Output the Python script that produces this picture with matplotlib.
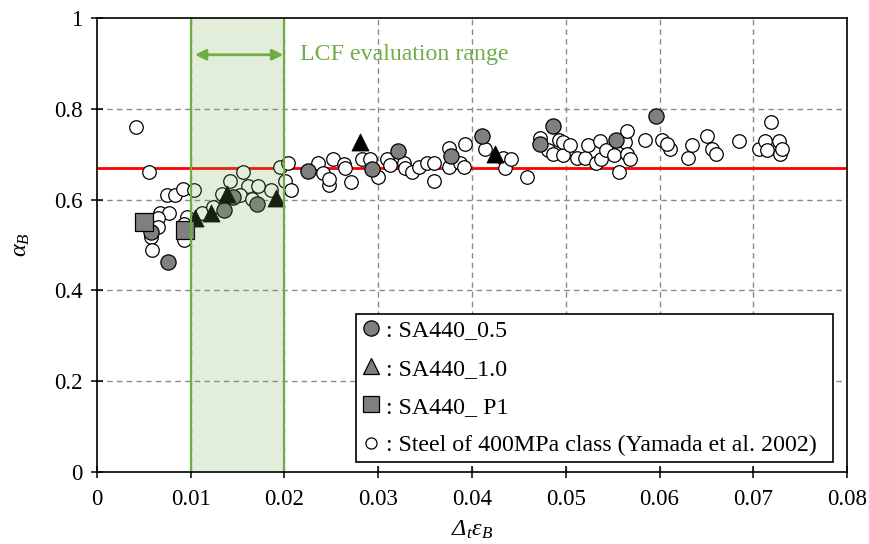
import matplotlib
matplotlib.use("Agg")
import matplotlib.pyplot as plt
from matplotlib.lines import Line2D

plt.rcParams["font.family"] = ["Liberation Serif", "DejaVu Serif"]
# math labels are fully italic (including the capital Delta)
plt.rcParams["mathtext.fontset"] = "custom"
plt.rcParams["mathtext.rm"] = "Liberation Serif:italic"
plt.rcParams["mathtext.it"] = "Liberation Serif:italic"
plt.rcParams["mathtext.bf"] = "Liberation Serif:bold"

# SA440_0.5 specimens
sa05_x = [0.0058, 0.0076, 0.0135, 0.0145, 0.0171, 0.0225, 0.0293, 0.0321,
          0.0378, 0.0411, 0.0473, 0.0486, 0.0554, 0.0596]
sa05_y = [0.529, 0.462, 0.577, 0.606, 0.590, 0.664, 0.667, 0.708,
          0.696, 0.741, 0.722, 0.762, 0.731, 0.785]

# SA440_1.0 specimens
sa10_x = [0.0105, 0.0122, 0.0139, 0.0191, 0.0281, 0.0425]
sa10_y = [0.559, 0.570, 0.612, 0.604, 0.727, 0.700]

# SA440_P1 specimens
sap1_x = [0.0050, 0.0094]
sap1_y = [0.551, 0.532]

# Steel of 400MPa class (Yamada et al. 2002)
ref_x = [0.0042, 0.0056, 0.0075, 0.0083, 0.0092, 0.0104, 0.0067, 0.0077, 0.0065,
         0.0065, 0.0058, 0.0059, 0.0096, 0.0093, 0.0093, 0.0112, 0.0142, 0.0156,
         0.0161, 0.0172, 0.0133, 0.0153, 0.0165, 0.0186, 0.0195, 0.0204, 0.0201,
         0.0207, 0.0124,
         0.0236, 0.0241, 0.0247, 0.0248, 0.0252, 0.0263, 0.0265, 0.0271, 0.0283,
         0.0291, 0.0300, 0.0309, 0.0313, 0.0327, 0.0329, 0.0336, 0.0343, 0.0352,
         0.0360, 0.0360, 0.0375, 0.0376, 0.0387, 0.0391, 0.0393, 0.0414, 0.0433,
         0.0435, 0.0442, 0.0459, 0.0473, 0.0481, 0.0486, 0.0493, 0.0497, 0.0497,
         0.0505, 0.0512, 0.0521, 0.0524, 0.0532, 0.0537, 0.0538, 0.0543, 0.0551,
         0.0557, 0.0563, 0.0565, 0.0565, 0.0569, 0.0584, 0.0603, 0.0611, 0.0608,
         0.0630, 0.0635, 0.0651, 0.0656, 0.0660, 0.0685, 0.0706, 0.0713, 0.0719,
         0.0715, 0.0727, 0.0729, 0.0731]
ref_y = [0.759, 0.661, 0.610, 0.610, 0.623, 0.621, 0.570, 0.570, 0.559,
         0.540, 0.518, 0.490, 0.562, 0.546, 0.511, 0.571, 0.642, 0.661,
         0.630, 0.630, 0.612, 0.611, 0.601, 0.621, 0.671, 0.681, 0.642,
         0.621, 0.584,
         0.681, 0.659, 0.632, 0.645, 0.689, 0.678, 0.669, 0.639, 0.689,
         0.690, 0.649, 0.689, 0.676, 0.681, 0.669, 0.661, 0.672, 0.680,
         0.680, 0.642, 0.713, 0.672, 0.680, 0.672, 0.722, 0.711, 0.691,
         0.669, 0.689, 0.649, 0.735, 0.709, 0.700, 0.731, 0.698, 0.726,
         0.720, 0.691, 0.691, 0.720, 0.680, 0.730, 0.689, 0.709, 0.698,
         0.661, 0.726, 0.750, 0.700, 0.689, 0.731, 0.731, 0.711, 0.723,
         0.691, 0.720, 0.740, 0.711, 0.700, 0.730, 0.711, 0.730, 0.770,
         0.710, 0.730, 0.700, 0.711]

x_ticks = [0, 0.01, 0.02, 0.03, 0.04, 0.05, 0.06, 0.07, 0.08]
x_tick_labels = ["0", "0.01", "0.02", "0.03", "0.04", "0.05", "0.06", "0.07", "0.08"]
y_ticks = [0, 0.2, 0.4, 0.6, 0.8, 1.0]
y_tick_labels = ["0", "0.2", "0.4", "0.6", "0.8", "1"]

alpha_b_mean = 0.67
lcf_range = (0.01, 0.02)

green = "#70ad47"
gray = "#7f7f7f"

fig = plt.figure(figsize=(8.69, 5.44), dpi=100)
ax = fig.add_axes([0.1116, 0.1324, 0.8631, 0.8345])

ax.set_xlim(0, 0.08)
ax.set_ylim(0, 1)

# dashed grid
for yv in y_ticks[1:-1]:
    ax.axhline(yv, color="#8c8c8c", lw=1.0, ls=(0, (4, 3)), zorder=1)
for xv in x_ticks[1:-1]:
    ax.axvline(xv, color="#8c8c8c", lw=1.0, ls=(0, (4, 3)), zorder=1)

ax.axhline(alpha_b_mean, color="red", lw=2.0, zorder=2)

ax.scatter(ref_x, ref_y, s=95, facecolor="white", edgecolor="black",
           linewidths=0.9, zorder=3)
ax.scatter(sa05_x, sa05_y, s=120, facecolor=gray, edgecolor="black",
           linewidths=0.9, zorder=4)
ax.scatter(sa10_x, sa10_y, s=150, marker="^", facecolor="black",
           edgecolor="black", linewidths=0.6, zorder=4)
ax.scatter(sap1_x, sap1_y, s=150, marker="s", facecolor=gray,
           edgecolor="black", linewidths=0.9, zorder=4)

# LCF evaluation band drawn over the markers
ax.axvspan(lcf_range[0], lcf_range[1], facecolor=green, alpha=0.2,
           edgecolor="none", zorder=5)
for xv in lcf_range:
    ax.axvline(xv, color=green, lw=1.6, zorder=6)
ax.annotate("", xy=(0.01045, 0.919), xytext=(0.01987, 0.919),
            arrowprops=dict(arrowstyle="<|-|>", color=green, lw=2.0,
                            mutation_scale=16, shrinkA=0, shrinkB=0),
            zorder=7)
ax.text(0.0217, 0.919, "LCF evaluation range", color=green, fontsize=17.2,
        va="center", ha="left", zorder=7)

ax.set_xticks(x_ticks)
ax.set_xticklabels(x_tick_labels)
ax.set_yticks(y_ticks)
ax.set_yticklabels(y_tick_labels)
ax.tick_params(axis="both", direction="inout", length=9, width=1.1,
               labelsize=16.5, color="black")
ax.tick_params(axis="x", pad=8)
ax.tick_params(axis="y", pad=6)
for sp in ax.spines.values():
    sp.set_linewidth(1.2)
    sp.set_zorder(8)

ax.set_xlabel(r"$\Delta_t\varepsilon_B$", fontsize=17.5, labelpad=6)
ax.set_ylabel(r"$\alpha_B$", fontsize=17.5, labelpad=16)

handles = [
    Line2D([], [], ls="none", marker="o", ms=11, mfc=gray, mec="black", mew=0.9),
    Line2D([], [], ls="none", marker="^", ms=11, mfc=gray, mec="black", mew=0.9),
    Line2D([], [], ls="none", marker="s", ms=11, mfc=gray, mec="black", mew=0.9),
    Line2D([], [], ls="none", marker="o", ms=8, mfc="white", mec="black", mew=0.9),
]
labels = [": SA440_0.5", ": SA440_1.0", ": SA440_ P1",
          ": Steel of 400MPa class (Yamada et al. 2002)"]
leg = ax.legend(handles, labels, loc="lower left", mode="expand",
                bbox_to_anchor=(0.345, 0.022, 0.636, 0.324), borderaxespad=0,
                fontsize=17.2, frameon=True, fancybox=False, framealpha=1,
                edgecolor="black", handlelength=0.8, handletextpad=0.23,
                labelspacing=0.69, borderpad=0.25)
leg.get_frame().set_linewidth(1.2)
leg.set_zorder(10)

fig.savefig("out.png", dpi=100)
